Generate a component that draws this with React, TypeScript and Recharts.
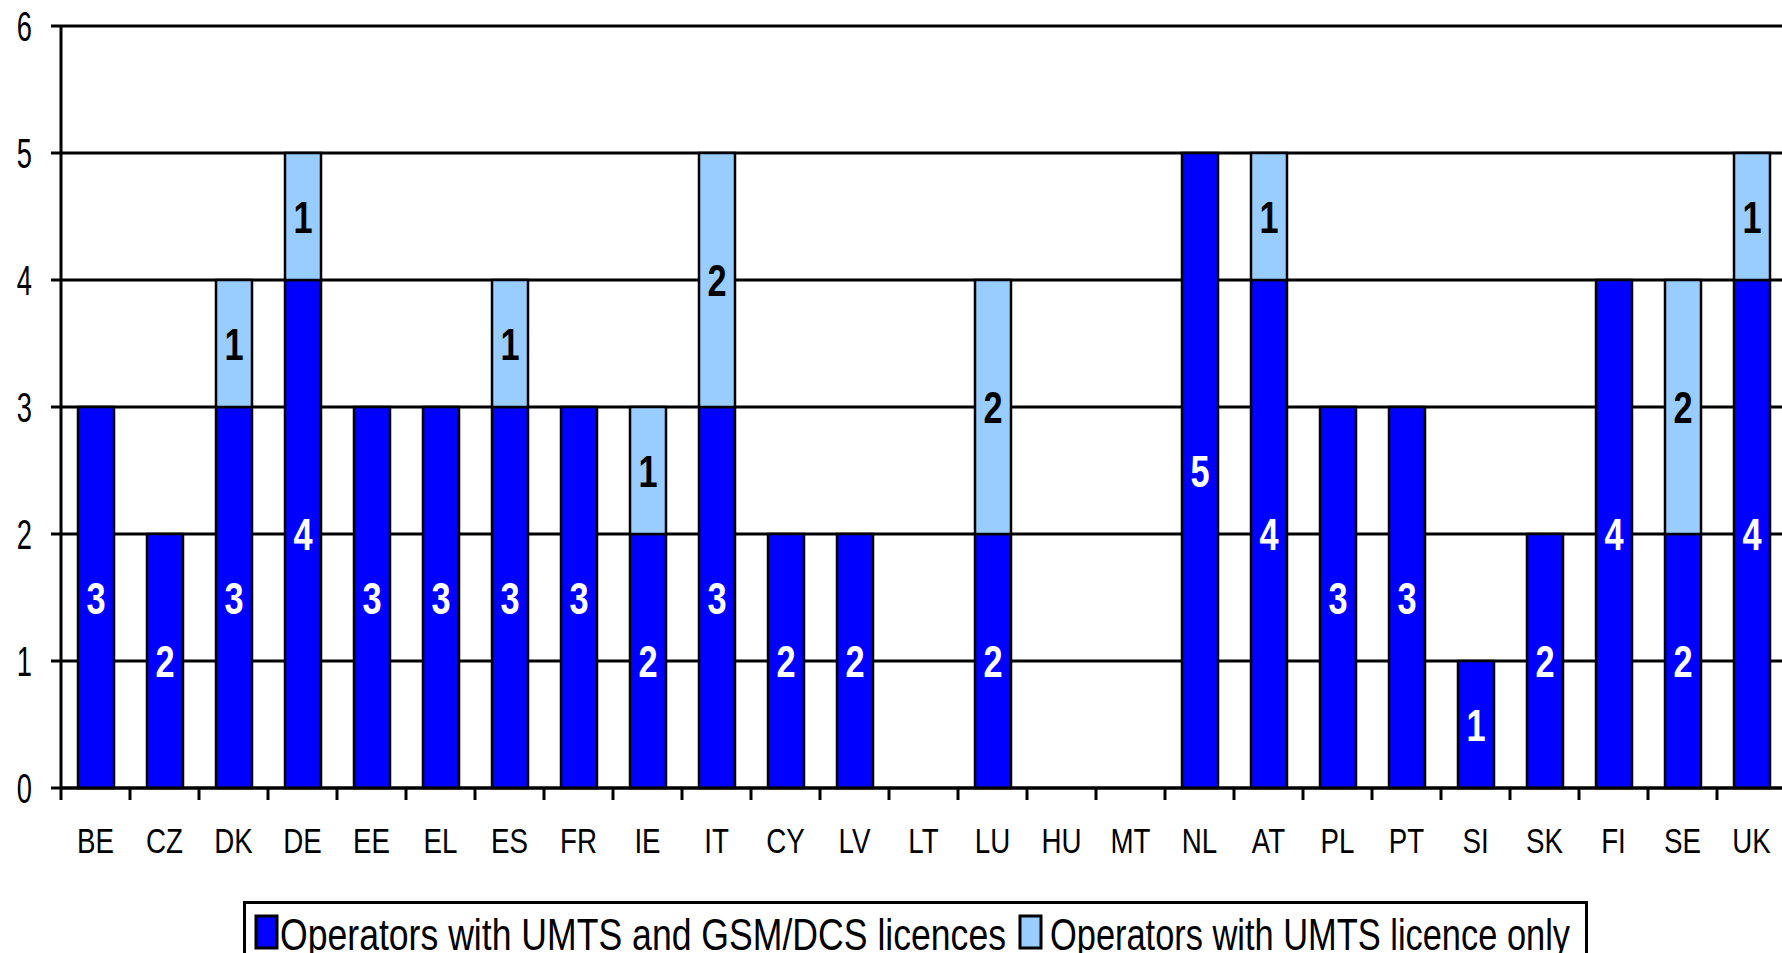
import React from "react";
import { Bar, BarChart, CartesianGrid, LabelList, XAxis, YAxis } from "recharts";

const CATEGORIES = [
    "BE", "CZ", "DK", "DE", "EE", "EL", "ES", "FR", "IE", "IT", "CY", "LV", "LT",
    "LU", "HU", "MT", "NL", "AT", "PL", "PT", "SI", "SK", "FI", "SE", "UK",
];
// operators holding both UMTS and GSM/DCS licences
const UMTS_AND_GSM = [3, 2, 3, 4, 3, 3, 3, 3, 2, 3, 2, 2, 0, 2, 0, 0, 5, 4, 3, 3, 1, 2, 4, 2, 4];
// operators holding a UMTS licence only
const UMTS_ONLY = [0, 0, 1, 1, 0, 0, 1, 0, 1, 2, 0, 0, 0, 2, 0, 0, 0, 1, 0, 0, 0, 0, 0, 2, 1];
const Y_TICKS = [0, 1, 2, 3, 4, 5, 6];
const SERIES_NAMES = [
    "Operators with UMTS and GSM/DCS licences",
    "Operators with UMTS licence only",
];
const SERIES_COLORS = ["#0000FF", "#99CCFF"];

const FONT = "'Liberation Sans', Arial, sans-serif";

const data = CATEGORIES.map((country, i) => ({
    country,
    both: UMTS_AND_GSM[i],
    umtsOnly: UMTS_ONLY[i],
}));

// squeezed text, the old bitmap fonts are much narrower than Arial
function NarrowText({ x, y, text, size, sx, fill = "#000", weight = 400, anchor = "middle" }: any) {
    return (
        <text
            transform={`translate(${x},${y}) scale(${sx},1)`}
            fontSize={size}
            fontWeight={weight}
            fill={fill}
            textAnchor={anchor}
            fontFamily={FONT}
        >
            {text}
        </text>
    );
}

function YTick({ x, y, payload }: any) {
    return <NarrowText x={x} y={y + 15} text={payload.value} size={42} sx={0.65} anchor="end" />;
}

function XTick({ x, y, payload, width }: any) {
    const band = (width || 1725) / CATEGORIES.length;
    const axisY = y - 12;
    const left = x - band / 2;
    return (
        <g>
            <line x1={left} x2={left} y1={axisY} y2={axisY + 12} stroke="#000" strokeWidth={3} />
            <NarrowText x={x} y={axisY + 65} text={payload.value} size={36} sx={0.77} />
        </g>
    );
}

function valueLabel(color: string) {
    return (props: any) => {
        const { x, y, width, height, value } = props;
        if (!value) return null;
        return (
            <NarrowText
                x={x + width / 2}
                y={y + height / 2 + 16}
                text={value}
                size={44}
                sx={0.78}
                weight={700}
                fill={color}
            />
        );
    };
}

function Legend() {
    return (
        <svg
            width={1345}
            height={60}
            style={{ position: "absolute", left: 243, top: 901, overflow: "visible" }}
        >
            <rect x={1.5} y={1.5} width={1342} height={70} fill="#fff" stroke="#000" strokeWidth={3} />
            <rect x={13} y={15} width={21} height={32} fill={SERIES_COLORS[0]} stroke="#000" strokeWidth={3} />
            <text x={37} y={49} fontSize={44} fontFamily={FONT} textLength={726} lengthAdjust="spacingAndGlyphs">
                {SERIES_NAMES[0]}
            </text>
            <rect x={777} y={15} width={21} height={32} fill={SERIES_COLORS[1]} stroke="#000" strokeWidth={3} />
            <text x={807} y={49} fontSize={44} fontFamily={FONT} textLength={520} lengthAdjust="spacingAndGlyphs">
                {SERIES_NAMES[1]}
            </text>
        </svg>
    );
}

export default function App() {
    return (
        <div
            style={{
                position: "absolute",
                left: 0,
                top: 0,
                width: 1782,
                height: 953,
                overflow: "hidden",
                background: "#fff",
            }}
        >
            <BarChart
                width={1800}
                height={953}
                data={data}
                margin={{ top: 26, right: 14, left: 0, bottom: 85 }}
                barSize={36}
            >
                <CartesianGrid vertical={false} stroke="#000" strokeWidth={3} strokeOpacity={1} />
                <XAxis
                    dataKey="country"
                    height={80}
                    tickLine={false}
                    tickSize={12}
                    tickMargin={0}
                    axisLine={{ stroke: "#000", strokeWidth: 3 }}
                    tick={<XTick />}
                    interval={0}
                />
                <YAxis
                    width={61}
                    domain={[0, 6]}
                    ticks={Y_TICKS}
                    interval={0}
                    tickSize={10}
                    tickMargin={19}
                    tickLine={{ stroke: "#000", strokeWidth: 3 }}
                    axisLine={{ stroke: "#000", strokeWidth: 3 }}
                    tick={<YTick />}
                />
                <Bar
                    dataKey="both"
                    name={SERIES_NAMES[0]}
                    stackId="a"
                    fill={SERIES_COLORS[0]}
                    stroke="#000"
                    strokeWidth={2.5}
                    isAnimationActive={false}
                >
                    <LabelList dataKey="both" content={valueLabel("#fff")} />
                </Bar>
                <Bar
                    dataKey="umtsOnly"
                    name={SERIES_NAMES[1]}
                    stackId="a"
                    fill={SERIES_COLORS[1]}
                    stroke="#000"
                    strokeWidth={2.5}
                    isAnimationActive={false}
                >
                    <LabelList dataKey="umtsOnly" content={valueLabel("#000")} />
                </Bar>
            </BarChart>
            <Legend />
        </div>
    );
}
